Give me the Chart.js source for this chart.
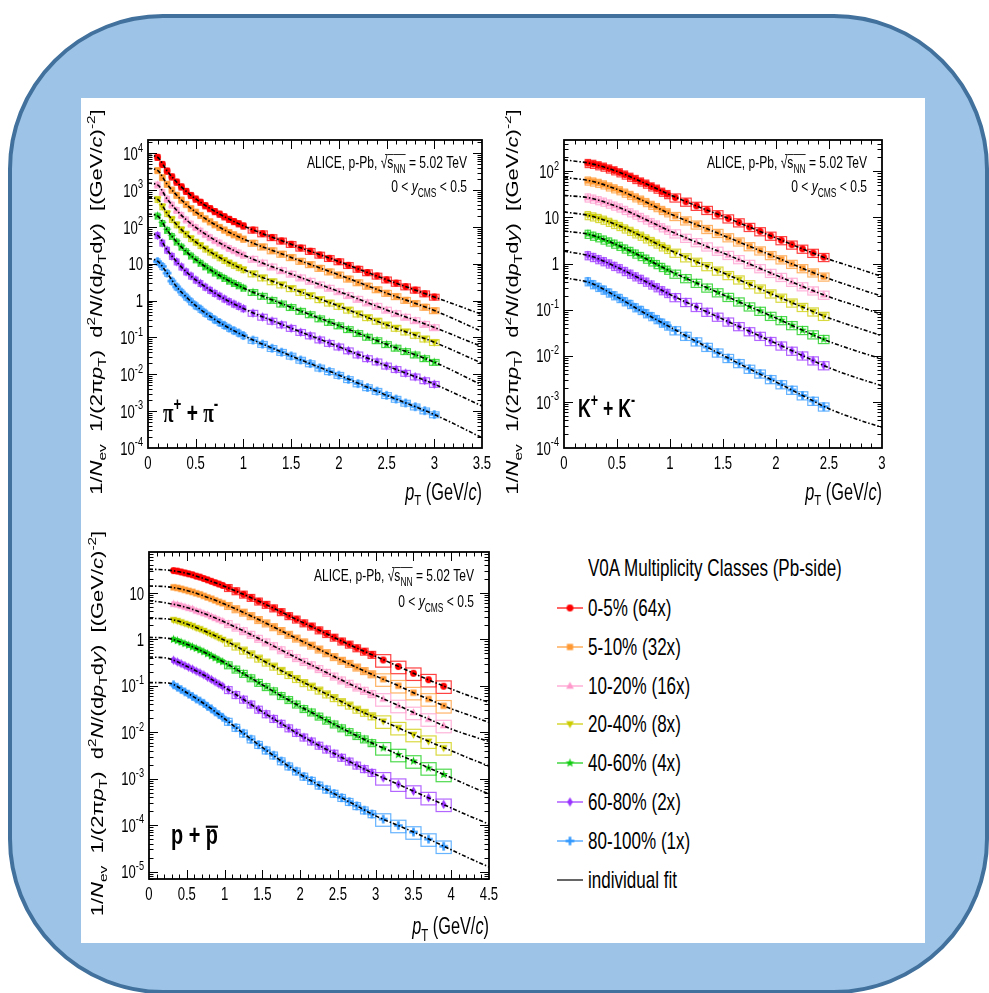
<!DOCTYPE html>
<html>
<head>
<meta charset="utf-8">
<title>Identified particle spectra, p-Pb 5.02 TeV</title>
<script src="https://cdn.jsdelivr.net/npm/chart.js@4.4.1/dist/chart.umd.min.js"></script>
<style>
    html, body { margin: 0; padding: 0; background: #fff; }
    body { width: 989px; height: 993px; position: relative; overflow: hidden; font-family: 'Liberation Sans', Arial, sans-serif; }
    #frame { position: absolute; left: 8px; top: 14px; width: 981px; height: 980px; box-sizing: border-box; border: 4px solid #41719c; border-radius: 155px; background: #9dc3e6; }
    #sheet { position: absolute; left: 81px; top: 98px; width: 844px; height: 845px; background: #fff; }
    canvas.panel { position: absolute; }
    .lg-text { position: absolute; font-size: 24px; line-height: 28px; height: 28px; white-space: nowrap; transform: scaleX(0.71); transform-origin: 0 50%; color: #000; }
    .lg-icon { position: absolute; }
</style>
</head>
<body>
<div id="frame"></div>
<div id="sheet"></div>
<canvas id="cPion" class="panel" width="418" height="405" style="left:82px;top:100px;width:418px;height:405px"></canvas>
<canvas id="cKaon" class="panel" width="415" height="405" style="left:505px;top:100px;width:415px;height:405px"></canvas>
<canvas id="cProton" class="panel" width="418" height="427" style="left:82px;top:515px;width:418px;height:427px"></canvas>
<div id="legend"></div>
<script>
(function () {
    'use strict';

    var classLabels = ['0-5% (64x)', '5-10% (32x)', '10-20% (16x)', '20-40% (8x)', '40-60% (4x)', '60-80% (2x)', '80-100% (1x)'];
    var classColors = ['#ff0000', '#ff9933', '#ff99cc', '#cccc00', '#11cc11', '#9933ff', '#3399ff'];
    var classShapes = ['circle', 'square', 'tri', 'triDown', 'star', 'diamond', 'cross'];

    // pi+ + pi-  (rows: 0-5% ... 80-100%, already scaled)
    var pionPt = [0.10, 0.15, 0.20, 0.25, 0.30, 0.35, 0.40, 0.45, 0.50, 0.55, 0.60, 0.65, 0.70, 0.75, 0.80, 0.85, 0.90, 0.95, 1.00,
        1.1, 1.2, 1.3, 1.4, 1.5, 1.6, 1.7, 1.8, 1.9, 2.0, 2.1, 2.2, 2.3, 2.4, 2.5, 2.6, 2.7, 2.8, 2.9, 3.0];
    var pionBinW = [0.05, 0.05, 0.05, 0.05, 0.05, 0.05, 0.05, 0.05, 0.05, 0.05, 0.05, 0.05, 0.05, 0.05, 0.05, 0.05, 0.05, 0.05, 0.05,
        0.1, 0.1, 0.1, 0.1, 0.1, 0.1, 0.1, 0.1, 0.1, 0.1, 0.1, 0.1, 0.1, 0.1, 0.1, 0.1, 0.1, 0.1, 0.1, 0.1];
    var pionSys = 0.18;
    var pionYields = [
        [7800, 5000, 3300, 2300, 1660, 1230, 930, 720, 575, 470, 380, 316, 263, 224, 190, 162, 141, 123, 107, 83, 66, 52, 42, 34, 27, 22, 17.4, 14.1, 11.5, 9.1, 7.2, 5.8, 4.7, 3.7, 3.0, 2.4, 1.95, 1.55, 1.26],
        [3430, 2200, 1450, 1010, 730, 540, 410, 317, 253, 207, 167, 139, 116, 98, 83, 71, 62, 54, 47, 36.5, 29, 22.8, 18.4, 14.9, 11.8, 9.6, 7.6, 6.1, 5.0, 3.9, 3.1, 2.5, 2.0, 1.6, 1.3, 1.03, 0.84, 0.67, 0.54],
        [1390, 880, 575, 396, 284, 209, 157, 121, 97, 78, 63, 52, 43, 37, 31, 26.4, 23, 19.9, 17.3, 13.4, 10.6, 8.3, 6.6, 5.3, 4.2, 3.4, 2.7, 2.2, 1.77, 1.39, 1.10, 0.88, 0.71, 0.56, 0.45, 0.36, 0.29, 0.23, 0.187],
        [565, 358, 234, 162, 116, 85, 64, 49, 39, 31.7, 25.5, 21.1, 17.5, 14.8, 12.5, 10.6, 9.2, 8.0, 7.0, 5.4, 4.2, 3.3, 2.7, 2.15, 1.70, 1.38, 1.08, 0.87, 0.71, 0.56, 0.44, 0.35, 0.28, 0.22, 0.18, 0.143, 0.116, 0.092, 0.074],
        [200, 126, 82, 56, 39.5, 28.9, 21.6, 16.5, 13.0, 10.5, 8.4, 6.9, 5.7, 4.8, 4.07, 3.43, 2.96, 2.57, 2.21, 1.69, 1.33, 1.03, 0.82, 0.66, 0.52, 0.42, 0.325, 0.26, 0.21, 0.166, 0.130, 0.103, 0.083, 0.065, 0.052, 0.042, 0.034, 0.027, 0.0214],
        [59, 36.9, 23.7, 16.1, 11.4, 8.3, 6.1, 4.7, 3.66, 2.96, 2.35, 1.93, 1.59, 1.34, 1.12, 0.95, 0.815, 0.71, 0.61, 0.46, 0.36, 0.28, 0.223, 0.179, 0.139, 0.112, 0.087, 0.070, 0.056, 0.044, 0.034, 0.027, 0.022, 0.017, 0.0137, 0.0108, 0.0086, 0.0068, 0.0054],
        [11.5, 8.5, 5.6, 3.4, 2.37, 1.71, 1.26, 0.94, 0.73, 0.59, 0.46, 0.376, 0.305, 0.255, 0.215, 0.180, 0.154, 0.133, 0.113, 0.085, 0.066, 0.051, 0.040, 0.0316, 0.0245, 0.0196, 0.0150, 0.0120, 0.0095, 0.0073, 0.0056, 0.0044, 0.0035, 0.0027, 0.00213, 0.00167, 0.00132, 0.00103, 0.00081]
    ];
    var pionFitPt = [0, 0.1, 0.2, 0.3, 0.4, 0.5, 0.75, 1.0, 1.5, 2.0, 2.5, 3.0, 3.5];
    var pionFits = [
        [8900, 7800, 3300, 1660, 930, 575, 224, 107, 34, 11.5, 3.7, 1.26, 0.42],
        [3900, 3430, 1450, 730, 410, 253, 98, 47, 14.9, 5.0, 1.6, 0.54, 0.145],
        [1550, 1390, 575, 284, 157, 97, 37, 17.3, 5.3, 1.77, 0.56, 0.187, 0.056],
        [630, 565, 234, 116, 64, 39, 14.8, 7.0, 2.15, 0.71, 0.22, 0.074, 0.020],
        [225, 200, 82, 39.5, 21.6, 13.0, 4.8, 2.21, 0.66, 0.21, 0.065, 0.0214, 0.0051],
        [66, 59, 23.7, 11.4, 6.1, 3.66, 1.34, 0.61, 0.179, 0.056, 0.017, 0.0054, 0.00138],
        [14, 11.8, 5.6, 2.37, 1.26, 0.73, 0.255, 0.113, 0.0316, 0.0095, 0.0027, 0.00081, 0.00019]
    ];

    // K+ + K-
    var kaonPt = [0.225, 0.275, 0.325, 0.375, 0.425, 0.475, 0.525, 0.575, 0.625, 0.675, 0.725, 0.775, 0.825, 0.875, 0.925, 0.975,
        1.05, 1.15, 1.25, 1.35, 1.45, 1.55, 1.65, 1.75, 1.85, 1.95, 2.05, 2.15, 2.25, 2.35, 2.45];
    var kaonBinW = [0.05, 0.05, 0.05, 0.05, 0.05, 0.05, 0.05, 0.05, 0.05, 0.05, 0.05, 0.05, 0.05, 0.05, 0.05, 0.05,
        0.1, 0.1, 0.1, 0.1, 0.1, 0.1, 0.1, 0.1, 0.1, 0.1, 0.1, 0.1, 0.1, 0.1, 0.1];
    var kaonSys = 0.2;
    var kaonYields = [
        [151, 145, 135, 126, 115, 105, 95, 85, 76, 68, 60, 54, 47, 42, 36, 32, 27, 21.9, 17.8, 14.5, 11.7, 9.5, 7.8, 6.2, 5.0, 4.0, 3.2, 2.57, 2.09, 1.70, 1.38],
        [63, 60, 56, 52, 47, 42.7, 38.8, 34.4, 30.7, 27.2, 24.3, 21.5, 18.7, 16.7, 14.5, 12.9, 10.7, 8.6, 7.0, 5.6, 4.6, 3.7, 3.0, 2.37, 1.92, 1.52, 1.23, 0.98, 0.79, 0.64, 0.52],
        [27, 25.5, 23.6, 21.9, 19.9, 18.0, 16.4, 14.5, 12.9, 11.5, 10.2, 9.0, 7.9, 7.0, 6.1, 5.4, 4.5, 3.6, 2.9, 2.34, 1.89, 1.53, 1.24, 0.98, 0.79, 0.625, 0.51, 0.40, 0.32, 0.26, 0.21],
        [11.2, 10.5, 9.7, 8.9, 8.0, 7.2, 6.5, 5.75, 5.1, 4.5, 4.0, 3.5, 3.07, 2.71, 2.35, 2.07, 1.71, 1.36, 1.09, 0.875, 0.70, 0.56, 0.45, 0.355, 0.286, 0.224, 0.181, 0.142, 0.114, 0.091, 0.073],
        [4.4, 4.0, 3.7, 3.3, 3.0, 2.69, 2.41, 2.11, 1.87, 1.64, 1.45, 1.27, 1.11, 0.97, 0.84, 0.73, 0.60, 0.48, 0.38, 0.30, 0.237, 0.188, 0.150, 0.117, 0.094, 0.073, 0.059, 0.046, 0.036, 0.029, 0.023],
        [1.51, 1.38, 1.24, 1.12, 1.00, 0.885, 0.79, 0.685, 0.60, 0.526, 0.463, 0.403, 0.35, 0.305, 0.263, 0.229, 0.186, 0.146, 0.114, 0.0895, 0.070, 0.055, 0.0437, 0.0339, 0.0269, 0.0208, 0.0166, 0.0128, 0.0101, 0.0079, 0.0062],
        [0.41, 0.355, 0.31, 0.27, 0.234, 0.204, 0.178, 0.151, 0.132, 0.112, 0.098, 0.083, 0.072, 0.062, 0.052, 0.045, 0.0355, 0.0269, 0.0204, 0.0155, 0.0117, 0.0089, 0.0069, 0.0052, 0.0041, 0.0031, 0.0024, 0.00182, 0.00138, 0.00105, 0.00079]
    ];
    var kaonFitPt = [0, 0.25, 0.5, 0.75, 1.0, 1.25, 1.5, 1.75, 2.0, 2.25, 2.5, 2.75, 3.0];
    var kaonFits = [
        [178, 148, 100, 57, 31, 17.8, 10.6, 6.2, 3.6, 2.09, 1.24, 0.81, 0.525],
        [74, 62, 40.7, 22.9, 12.0, 7.0, 4.1, 2.37, 1.37, 0.79, 0.47, 0.30, 0.195],
        [30.2, 26.3, 17.2, 9.5, 5.1, 2.9, 1.70, 0.98, 0.56, 0.32, 0.19, 0.123, 0.079],
        [13.2, 10.8, 6.9, 3.76, 1.95, 1.09, 0.63, 0.355, 0.20, 0.114, 0.066, 0.042, 0.027],
        [5.1, 4.2, 2.55, 1.36, 0.69, 0.38, 0.211, 0.117, 0.066, 0.036, 0.0204, 0.0129, 0.0085],
        [1.86, 1.45, 0.836, 0.43, 0.214, 0.114, 0.062, 0.034, 0.0186, 0.0101, 0.0055, 0.0034, 0.00224],
        [0.49, 0.38, 0.19, 0.087, 0.042, 0.0204, 0.0102, 0.0052, 0.0027, 0.00138, 0.00071, 0.00043, 0.00028]
    ];

    // p + pbar
    var protonPt = [0.325, 0.375, 0.425, 0.475, 0.525, 0.575, 0.625, 0.675, 0.725, 0.775, 0.825, 0.875, 0.925, 0.975,
        1.05, 1.15, 1.25, 1.35, 1.45, 1.55, 1.65, 1.75, 1.85, 1.95, 2.05, 2.15, 2.25, 2.35, 2.45, 2.55, 2.65, 2.75, 2.85, 2.95,
        3.1, 3.3, 3.5, 3.7, 3.9];
    var protonBinW = [0.05, 0.05, 0.05, 0.05, 0.05, 0.05, 0.05, 0.05, 0.05, 0.05, 0.05, 0.05, 0.05, 0.05,
        0.1, 0.1, 0.1, 0.1, 0.1, 0.1, 0.1, 0.1, 0.1, 0.1, 0.1, 0.1, 0.1, 0.1, 0.1, 0.1, 0.1, 0.1, 0.1, 0.1,
        0.2, 0.2, 0.2, 0.2, 0.2];
    var protonSys = [0.1, 0.1, 0.1, 0.1, 0.1, 0.1, 0.1, 0.1, 0.1, 0.1, 0.1, 0.1, 0.1, 0.1,
        0.17, 0.17, 0.17, 0.17, 0.17, 0.17, 0.17, 0.17, 0.17, 0.17, 0.17, 0.17, 0.17, 0.17, 0.17, 0.17, 0.17, 0.17, 0.17, 0.17,
        0.3, 0.3, 0.3, 0.3, 0.3];
    var protonYields = [
        [30.2, 29.5, 28.2, 26.9, 25.7, 24.5, 22.9, 21.9, 20.4, 19.1, 17.8, 16.6, 15.5, 14.5, 12.9, 11.0, 9.3, 7.9, 6.6, 5.6, 4.7, 3.9, 3.2, 2.7, 2.24, 1.91, 1.58, 1.32, 1.10, 0.91, 0.78, 0.65, 0.55, 0.47, 0.36, 0.26, 0.186, 0.135, 0.098],
        [13.2, 12.8, 12.2, 11.6, 11.0, 10.5, 9.8, 9.3, 8.6, 8.0, 7.5, 6.9, 6.4, 6.0, 5.3, 4.5, 3.8, 3.2, 2.64, 2.23, 1.85, 1.53, 1.27, 1.05, 0.87, 0.74, 0.61, 0.51, 0.42, 0.35, 0.30, 0.25, 0.21, 0.179, 0.139, 0.100, 0.071, 0.052, 0.037],
        [5.75, 5.6, 5.3, 5.0, 4.7, 4.5, 4.1, 3.9, 3.6, 3.4, 3.1, 2.87, 2.65, 2.46, 2.16, 1.81, 1.52, 1.27, 1.04, 0.87, 0.72, 0.59, 0.49, 0.40, 0.33, 0.28, 0.232, 0.192, 0.160, 0.132, 0.112, 0.093, 0.079, 0.067, 0.052, 0.0375, 0.0266, 0.0192, 0.0139],
        [2.63, 2.51, 2.35, 2.20, 2.07, 1.94, 1.78, 1.67, 1.54, 1.41, 1.29, 1.19, 1.08, 0.99, 0.86, 0.71, 0.58, 0.48, 0.39, 0.32, 0.262, 0.212, 0.173, 0.142, 0.116, 0.097, 0.080, 0.066, 0.055, 0.045, 0.038, 0.031, 0.0265, 0.0223, 0.0173, 0.0125, 0.0089, 0.0064, 0.0046],
        [1.00, 0.94, 0.87, 0.81, 0.75, 0.69, 0.64, 0.59, 0.54, 0.49, 0.44, 0.40, 0.36, 0.33, 0.28, 0.226, 0.183, 0.147, 0.117, 0.095, 0.077, 0.061, 0.050, 0.040, 0.032, 0.027, 0.022, 0.018, 0.0149, 0.0123, 0.0102, 0.0084, 0.0071, 0.0059, 0.0046, 0.0033, 0.0024, 0.0017, 0.00123],
        [0.355, 0.327, 0.30, 0.274, 0.25, 0.229, 0.207, 0.19, 0.172, 0.153, 0.137, 0.122, 0.109, 0.098, 0.082, 0.064, 0.051, 0.040, 0.031, 0.0247, 0.0196, 0.0154, 0.0123, 0.0098, 0.0078, 0.0064, 0.0052, 0.0043, 0.0035, 0.00286, 0.00237, 0.00194, 0.00163, 0.00135, 0.00104, 0.00076, 0.00054, 0.00039, 0.00028],
        [0.105, 0.093, 0.083, 0.074, 0.066, 0.059, 0.052, 0.047, 0.042, 0.036, 0.032, 0.0275, 0.024, 0.021, 0.017, 0.0126, 0.0095, 0.0071, 0.0054, 0.0041, 0.0032, 0.0024, 0.00186, 0.00145, 0.00112, 0.00091, 0.00072, 0.00059, 0.00048, 0.00039, 0.00032, 0.00026, 0.00021, 0.000174, 0.000135, 0.000098, 0.000071, 0.000050, 0.000035]
    ];
    var protonFitPt = [0, 0.25, 0.5, 0.75, 1.0, 1.25, 1.5, 1.75, 2.0, 2.25, 2.5, 2.75, 3.0, 3.25, 3.5, 3.75, 4.0, 4.25, 4.5];
    var protonFits = [
        [32.4, 30.9, 26.3, 19.7, 13.8, 9.3, 6.1, 3.9, 2.45, 1.58, 1.0, 0.65, 0.43, 0.285, 0.186, 0.124, 0.085, 0.060, 0.044],
        [14.1, 13.5, 11.3, 8.3, 5.75, 3.8, 2.43, 1.53, 0.955, 0.61, 0.385, 0.248, 0.162, 0.109, 0.071, 0.0475, 0.032, 0.023, 0.0162],
        [6.8, 6.0, 4.84, 3.49, 2.36, 1.52, 0.955, 0.59, 0.366, 0.232, 0.145, 0.093, 0.062, 0.041, 0.0266, 0.0178, 0.0117, 0.0085, 0.0063],
        [2.82, 2.75, 2.14, 1.47, 0.955, 0.585, 0.355, 0.212, 0.129, 0.080, 0.050, 0.031, 0.0204, 0.0135, 0.0089, 0.0059, 0.0040, 0.0027, 0.00186],
        [1.10, 1.05, 0.78, 0.51, 0.316, 0.183, 0.105, 0.061, 0.036, 0.022, 0.0135, 0.0084, 0.0054, 0.0036, 0.0024, 0.00158, 0.00105, 0.00069, 0.00047],
        [0.417, 0.389, 0.263, 0.162, 0.093, 0.051, 0.0275, 0.0154, 0.0087, 0.0052, 0.00316, 0.00194, 0.00123, 0.00082, 0.00054, 0.000355, 0.000234, 0.000155, 0.000105],
        [0.117, 0.115, 0.071, 0.039, 0.0195, 0.0095, 0.0047, 0.0024, 0.00126, 0.00072, 0.00043, 0.00026, 0.000158, 0.000106, 0.000071, 0.000046, 0.0000295, 0.000019, 0.0000126]
    ];

    // ---- drawing helpers --------------------------------------------------
    // the original figure is squeezed horizontally, so every text run is too
    var SQ = 0.71;
    var SANS = "'Liberation Sans', Arial, Helvetica, sans-serif";
    var SERIF = "'Liberation Serif', 'Times New Roman', serif";

    function T(t, o) {
        o = o || {};
        o.t = t;
        return o;
    }

    function partFont(p, size) {
        var s = (p.sub || p.sup) ? size * 0.7 : size;
        return (p.i ? 'italic ' : '') + (p.b ? 'bold ' : '') + s.toFixed(1) + 'px ' + (p.serif ? SERIF : SANS);
    }

    // x, y = anchor at the middle of the capitals
    function richText(ctx, parts, size, x, y, align, vertical) {
        ctx.save();
        ctx.translate(x, y);
        if (vertical) {
            ctx.rotate(-Math.PI / 2);
            ctx.scale(1, SQ);
        } else {
            ctx.scale(SQ, 1);
        }
        var total = 0;
        parts.forEach(function (p) {
            ctx.font = partFont(p, size);
            p.w = ctx.measureText(p.t).width;
            total += p.w;
        });
        var cx = align === 'right' ? -total : (align === 'center' ? -total / 2 : 0);
        var base = size * 0.36;
        ctx.fillStyle = '#000';
        ctx.strokeStyle = '#000';
        ctx.textAlign = 'left';
        ctx.textBaseline = 'alphabetic';
        parts.forEach(function (p) {
            ctx.font = partFont(p, size);
            var dy = p.sub ? size * 0.28 : (p.sup ? -size * 0.45 : 0);
            ctx.fillText(p.t, cx, base + dy);
            if (p.over) {
                var oy = base - size * p.over;
                ctx.lineWidth = p.ow || 1;
                ctx.beginPath();
                ctx.moveTo(cx + (p.ox || 0), oy);
                ctx.lineTo(cx + p.w, oy);
                ctx.stroke();
            }
            cx += p.w;
        });
        ctx.restore();
    }

    function makeMarker(shape, color) {
        var c = document.createElement('canvas');
        c.width = 11;
        c.height = 11;
        var g = c.getContext('2d');
        g.fillStyle = color;
        g.translate(5.5, 5.5);
        g.beginPath();
        if (shape === 'circle') {
            g.arc(0, 0, 3.4, 0, 2 * Math.PI);
        } else if (shape === 'square') {
            g.rect(-3.1, -3.1, 6.2, 6.2);
        } else if (shape === 'tri') {
            g.moveTo(0, -4.2); g.lineTo(3.9, 2.8); g.lineTo(-3.9, 2.8); g.closePath();
        } else if (shape === 'triDown') {
            g.moveTo(0, 4.2); g.lineTo(3.9, -2.8); g.lineTo(-3.9, -2.8); g.closePath();
        } else if (shape === 'star') {
            for (var k = 0; k < 10; k++) {
                var r = k % 2 ? 1.9 : 4.7;
                var an = -Math.PI / 2 + k * Math.PI / 5;
                g.lineTo(r * Math.cos(an), r * Math.sin(an));
            }
            g.closePath();
        } else if (shape === 'diamond') {
            g.moveTo(0, -4.7); g.lineTo(2.8, 0); g.lineTo(0, 4.7); g.lineTo(-2.8, 0); g.closePath();
        } else if (shape === 'cross') {
            g.rect(-4.3, -1.3, 8.6, 2.6);
            g.rect(-1.3, -4.3, 2.6, 8.6);
        }
        g.fill();
        return c;
    }

    function fade(hex, a) {
        var n = parseInt(hex.slice(1), 16);
        return 'rgba(' + (n >> 16) + ',' + ((n >> 8) & 255) + ',' + (n & 255) + ',' + a + ')';
    }

    var markers = classShapes.map(function (s, k) {
        return makeMarker(s, classColors[k]);
    });

    function yTitle() {
        return [T('1/'), T('N', { i: 1 }), T('ev', { sub: 1 }), T('  1/(2\u03c0'), T('p', { i: 1 }), T('T', { sub: 1 }),
            T(')  d'), T('2', { sup: 1 }), T('N', { i: 1 }), T('/(d'), T('p', { i: 1 }), T('T', { sub: 1 }), T('d'),
            T('y', { i: 1 }), T(')  [(GeV/'), T('c', { i: 1 }), T(')'), T('-2', { sup: 1 }), T(']')];
    }

    function xTitle() {
        return [T('p', { i: 1 }), T('T', { sub: 1 }), T(' (GeV/'), T('c', { i: 1 }), T(')')];
    }

    function framePlugin(p) {
        return {
            id: 'rootFrame',
            beforeDatasetsDraw: function (chart) {
                var ctx = chart.ctx;
                var a = chart.chartArea;
                var xs = chart.scales.x;
                var ys = chart.scales.y;
                ctx.save();
                ctx.beginPath();
                ctx.rect(a.left, a.top, a.right - a.left, a.bottom - a.top);
                ctx.clip();
                ctx.lineWidth = 1.2;
                chart.data.datasets.forEach(function (ds) {
                    if (!ds.binW) {
                        return;
                    }
                    ctx.strokeStyle = ds.boxColor;
                    ds.data.forEach(function (pt, i) {
                        var s = Array.isArray(ds.sys) ? ds.sys[i] : ds.sys;
                        var x0 = xs.getPixelForValue(pt.x - ds.binW[i] / 2);
                        var x1 = xs.getPixelForValue(pt.x + ds.binW[i] / 2);
                        var y0 = ys.getPixelForValue(pt.y * (1 + s));
                        var y1 = ys.getPixelForValue(pt.y * (1 - s));
                        ctx.strokeRect(x0, y0, x1 - x0, y1 - y0);
                    });
                });
                ctx.restore();
            },
            afterDraw: function (chart) {
                var ctx = chart.ctx;
                var a = chart.chartArea;
                var xs = chart.scales.x;
                var ys = chart.scales.y;
                var i, d, m;
                ctx.save();
                ctx.strokeStyle = '#000';
                ctx.lineWidth = 1;
                ctx.beginPath();
                var n = Math.round(p.xMax / 0.1);
                for (i = 1; i < n; i++) {
                    var px = Math.round(xs.getPixelForValue(i * 0.1)) + 0.5;
                    var len = i % 5 === 0 ? 9 : 4.5;
                    ctx.moveTo(px, a.bottom);
                    ctx.lineTo(px, a.bottom - len);
                    ctx.moveTo(px, a.top);
                    ctx.lineTo(px, a.top + len);
                }
                var d0 = Math.floor(Math.log10(p.yMin));
                var d1 = Math.ceil(Math.log10(p.yMax));
                for (d = d0; d <= d1; d++) {
                    for (m = 1; m <= 9; m++) {
                        var v = m * Math.pow(10, d);
                        if (v <= p.yMin * 1.0001 || v >= p.yMax * 0.9999) {
                            continue;
                        }
                        var py = Math.round(ys.getPixelForValue(v)) + 0.5;
                        var l = m === 1 ? 9 : 4.5;
                        ctx.moveTo(a.left, py);
                        ctx.lineTo(a.left + l, py);
                        ctx.moveTo(a.right, py);
                        ctx.lineTo(a.right - l, py);
                    }
                }
                ctx.stroke();
                ctx.lineWidth = 1.8;
                ctx.strokeRect(a.left, a.top, a.right - a.left, a.bottom - a.top);
                ctx.restore();

                for (i = 0; i <= n; i += 5) {
                    var xv = +(i * 0.1).toFixed(1);
                    richText(ctx, [T(String(xv))], 18.5, xs.getPixelForValue(xv), a.bottom + 14, 'center');
                }
                for (d = Math.ceil(Math.log10(p.yMin) - 1e-9); d <= Math.floor(Math.log10(p.yMax) + 1e-9); d++) {
                    var parts = d === 0 ? [T('1')] : (d === 1 ? [T('10')] : [T('10'), T(String(d), { sup: 1 })]);
                    richText(ctx, parts, 18.5, a.left - 5, ys.getPixelForValue(Math.pow(10, d)), 'right');
                }

                richText(ctx, yTitle(), 22, a.left - 52, (a.top + a.bottom) / 2 + 8, 'center', true);
                richText(ctx, xTitle(), 23, a.right, a.bottom + p.xTitleDy, 'right');
                richText(ctx, [T('ALICE, p-Pb, '), T('\u221a', { over: 0.8, ox: 6 }), T('s', { over: 0.8 }), T('NN', { sub: 1, over: 0.8 }), T(' = 5.02 TeV')],
                    17, a.right - 15, a.top + p.line1Dy, 'right');
                richText(ctx, [T('0 < '), T('y', { i: 1 }), T('CMS', { sub: 1 }), T(' < 0.5')], 17, a.right - 15, a.top + p.line2Dy, 'right');
                richText(ctx, p.label(), p.labelSize, a.left + p.labelDx, a.bottom + p.labelDy, 'left');
            }
        };
    }

    function buildDatasets(p) {
        var ds = [];
        p.yields.forEach(function (ys, k) {
            ds.push({
                label: classLabels[k],
                data: p.pt.map(function (x, i) {
                    return { x: x, y: ys[i] };
                }),
                showLine: false,
                pointStyle: markers[k],
                pointRadius: 4,
                binW: p.binW,
                sys: p.sys,
                boxColor: fade(classColors[k], 0.75),
                order: 1
            });
        });
        p.fits.forEach(function (fs) {
            ds.push({
                label: 'individual fit',
                data: p.fitPt.map(function (x, i) {
                    return { x: x, y: fs[i] };
                }),
                showLine: true,
                pointRadius: 0,
                borderColor: '#000',
                borderWidth: 1.6,
                borderDash: [4, 2, 1.5, 2],
                cubicInterpolationMode: 'monotone',
                fill: false,
                order: 0
            });
        });
        return ds;
    }

    var panels = [
        {
            id: 'cPion', pad: { left: 66, right: 18, top: 40, bottom: 57 }, xMax: 3.5, yMin: 1e-4, yMax: 22900,
            pt: pionPt, binW: pionBinW, sys: pionSys, yields: pionYields, fitPt: pionFitPt, fits: pionFits,
            xTitleDy: 44, line1Dy: 22, line2Dy: 46, labelSize: 27, labelDx: 15, labelDy: -36,
            label: function () {
                return [T('\u03c0', { b: 1, serif: 1 }), T('+', { sup: 1, b: 1 }), T(' + ', { b: 1 }), T('\u03c0', { b: 1, serif: 1 }), T('-', { sup: 1, b: 1 })];
            }
        },
        {
            id: 'cKaon', pad: { left: 59, right: 38, top: 40, bottom: 57 }, xMax: 3, yMin: 1e-4, yMax: 479,
            pt: kaonPt, binW: kaonBinW, sys: kaonSys, yields: kaonYields, fitPt: kaonFitPt, fits: kaonFits,
            xTitleDy: 44, line1Dy: 22, line2Dy: 46, labelSize: 25, labelDx: 14, labelDy: -40,
            label: function () {
                return [T('K', { b: 1 }), T('+', { sup: 1, b: 1 }), T(' + ', { b: 1 }), T('K', { b: 1 }), T('-', { sup: 1, b: 1 })];
            }
        },
        {
            id: 'cProton', pad: { left: 67, right: 11, top: 37, bottom: 63 }, xMax: 4.5, yMin: 6.92e-6, yMax: 75.9,
            pt: protonPt, binW: protonBinW, sys: protonSys, yields: protonYields, fitPt: protonFitPt, fits: protonFits,
            xTitleDy: 47, line1Dy: 23, line2Dy: 49, labelSize: 28, labelDx: 22, labelDy: -45,
            label: function () {
                return [T('p', { b: 1 }), T(' + ', { b: 1 }), T('p', { b: 1, over: 0.62, ow: 2.2 })];
            }
        }
    ];

    function initPanel(p) {
        var canvas = document.getElementById(p.id);
        return new Chart(canvas.getContext('2d'), {
            type: 'scatter',
            data: { datasets: buildDatasets(p) },
            options: {
                responsive: false,
                animation: false,
                events: [],
                layout: { padding: p.pad },
                plugins: {
                    legend: { display: false },
                    tooltip: { enabled: false }
                },
                scales: {
                    x: { type: 'linear', min: 0, max: p.xMax, display: false },
                    y: { type: 'logarithmic', min: p.yMin, max: p.yMax, display: false }
                }
            },
            plugins: [framePlugin(p)]
        });
    }

    function addText(box, text, left, cy) {
        var t = document.createElement('div');
        t.className = 'lg-text';
        t.textContent = text;
        t.style.left = left + 'px';
        t.style.top = (cy - 14) + 'px';
        box.appendChild(t);
    }

    function addIcon(box, color, marker, cy) {
        var c = document.createElement('canvas');
        c.className = 'lg-icon';
        c.width = 30;
        c.height = 16;
        c.style.left = '555px';
        c.style.top = (cy - 8) + 'px';
        var g = c.getContext('2d');
        g.strokeStyle = color;
        g.lineWidth = 2;
        g.beginPath();
        g.moveTo(2, 8);
        g.lineTo(28, 8);
        g.stroke();
        if (marker) {
            g.drawImage(marker, 15 - 5.5, 8 - 5.5);
        }
        box.appendChild(c);
    }

    function buildLegend() {
        var box = document.getElementById('legend');
        addText(box, 'V0A Multiplicity Classes (Pb-side)', 588, 568);
        var rows = [608, 647, 686, 724, 763, 802, 841];
        classLabels.forEach(function (lab, k) {
            addIcon(box, fade(classColors[k], 0.6), markers[k], rows[k]);
            addText(box, lab, 588, rows[k]);
        });
        addIcon(box, '#666', null, 880);
        addText(box, 'individual fit', 588, 880);
    }

    function init() {
        panels.forEach(initPanel);
        buildLegend();
    }

    if (document.readyState === 'loading') {
        document.addEventListener('DOMContentLoaded', init);
    } else {
        init();
    }
})();
</script>
</body>
</html>
